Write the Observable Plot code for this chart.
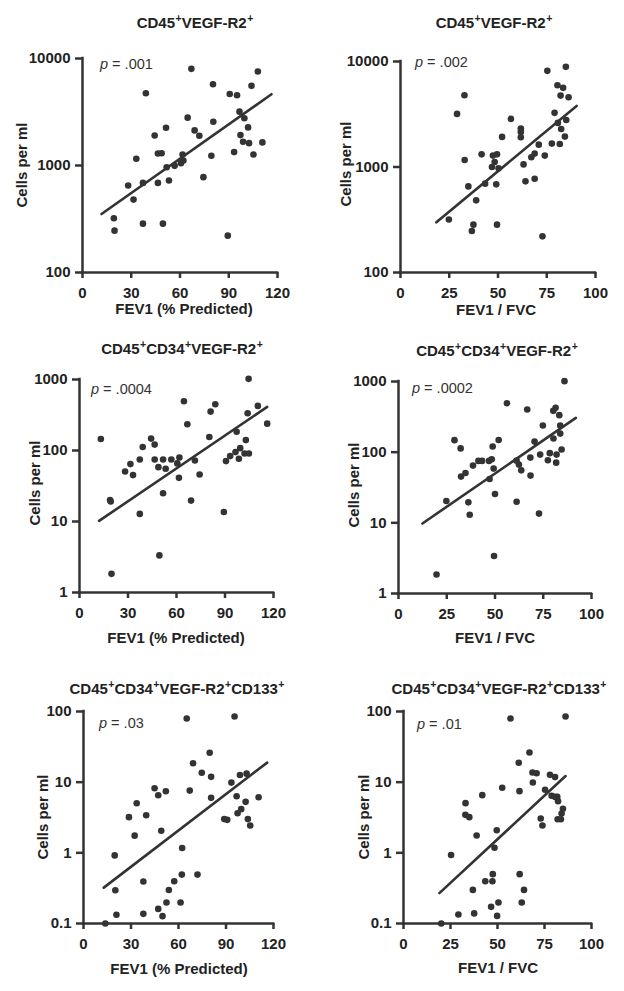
<!DOCTYPE html>
<html><head><meta charset="utf-8">
<script src="https://cdn.jsdelivr.net/npm/d3@7"></script>
<script src="https://cdn.jsdelivr.net/npm/@observablehq/plot@0.6"></script>
<style>
body{margin:0;background:#fff;font-family:"Liberation Sans",Arial,sans-serif;}
#fig{position:relative;width:624px;height:991px;overflow:hidden;background:#fff;}
#fig svg{position:absolute;}
#fig svg text{font-size:15px;font-weight:bold;font-family:"Liberation Sans",Arial,sans-serif;}
.t{position:absolute;white-space:nowrap;color:#222;line-height:15px;}
.title{font-weight:bold;font-size:15px;transform:translateX(-50%);}
.title sup{font-size:10.5px;position:relative;top:-6px;vertical-align:baseline;margin-left:0.5px;}
.xlab{font-weight:bold;font-size:15px;transform:translateX(-50%);}
.ylab{font-weight:bold;font-size:15px;transform:translate(-50%,-50%) rotate(-90deg);}
.pval{font-size:14.5px;color:#333;line-height:14px;}
</style></head>
<body><div id="fig"></div>
<script>
// ---------- data ----------
const titleVegf = ["CD45", "VEGF-R2"];
const titleCd34 = ["CD45", "CD34", "VEGF-R2"];
const titleCd133 = ["CD45", "CD34", "VEGF-R2", "CD133"];
const xLabelPred = "FEV1 (% Predicted)";
const xLabelRatio = "FEV1 / FVC";
const yLabel = "Cells per ml";
const pValues = [".001", ".002", ".0004", ".0002", ".03", ".01"];

const xTicksPred = [0, 30, 60, 90, 120];
const xTicksRatio = [0, 25, 50, 75, 100];
const yTicksVegf = [100, 1000, 10000];
const yTicksCd34 = [1, 10, 100, 1000];
const yTicksCd133 = [0.1, 1, 10, 100];

// Panel 1: CD45+VEGF-R2+ vs FEV1 % predicted
const vegfPredX = [19.3,19.7,28.1,31.4,33.1,37.2,37.2,39.0,44.4,46.4,46.4,48.7,49.5,51.4,51.8,53.2,56.7,60.6,61.6,62.1,64.7,67.0,69.0,71.9,74.4,79.3,80.5,80.3,90.6,89.4,93.3,95.1,96.6,97.2,98.8,99.6,101.9,102.5,104.0,105.2,107.9,110.7];
const vegfPredY = [321,246,650,480,1155,286,688,4730,1910,1296,688,1300,286,2256,964,723,993,1052,1268,1114,2800,8000,2128,1896,778,1233,2566,5740,4660,221,1334,4530,3186,1924,1666,2762,2271,1617,5549,1268,7556,1644];
const vegfPredFit = [11.7, 352, 116.3, 4637];

// Panel 2: CD45+VEGF-R2+ vs FEV1/FVC
const vegfRatioX = [24.8,29.0,32.8,32.9,34.8,36.6,37.4,38.8,41.6,43.4,46.9,47.4,48.3,49.1,49.5,49.5,50.3,52.1,56.6,61.7,61.7,61.7,63.1,64.1,67.1,68.8,68.8,70.9,72.8,74.0,75.3,77.6,79.0,80.5,80.7,81.7,82.1,82.4,83.4,84.3,84.8,85.0,86.2];
const vegfRatioY = [318,3185,4786,1165,655,247,284,483,1318,695,1000,1282,1115,685,1318,284,971,1928,2857,2312,2150,1914,1058,731,1236,1339,775,1629,220,1282,8151,1667,3260,5952,2618,1652,4752,2295,5625,1942,8897,2792,4579];
const vegfRatioFit = [18.4, 299, 90.3, 3794];

// Panel 3: CD45+CD34+VEGF-R2+ vs FEV1 % predicted
const cd34PredX = [13.2,18.9,19.3,19.8,28.2,31.5,33.1,37.3,37.3,39.1,44.3,46.5,46.5,48.8,49.4,51.7,51.7,53.3,56.8,60.5,61.8,61.5,64.6,66.7,69.0,71.4,74.3,80.3,81.1,84.0,89.3,90.6,93.2,96.5,97.2,98.6,99.4,102.1,102.9,104.0,104.8,104.6,110.3,116.1];
const cd34PredY = [145,20.1,19.1,1.83,50.7,64.3,45.0,12.8,74.8,112,147,121,74.8,58.3,3.33,74.8,25.0,55.2,74.8,65.8,79.8,41.2,494,234,19.7,72.4,45.9,155,353,448,13.6,70.9,83.4,95.0,184,76.6,108,90.9,140,334,90.9,1022,425,239];
const cd34PredFit = [12.1, 10.2, 116.1, 411];

// Panel 4: CD45+CD34+VEGF-R2+ vs FEV1/FVC
const cd34RatioX = [19.7,24.8,29.0,32.2,32.4,34.7,36.2,36.9,38.6,41.4,43.3,46.9,47.2,48.3,48.8,49.3,50.0,49.5,51.9,56.2,61.2,61.2,62.4,63.6,66.7,68.3,68.4,70.5,72.8,73.4,74.8,77.4,78.4,80.3,80.2,81.4,81.7,81.9,83.3,83.8,83.8,84.5,86.0];
const cd34RatioY = [1.86,20.4,148,113,45.1,50.8,19.5,13.0,64.6,75.2,75.2,75.2,41.8,79.3,120,58.5,25.6,3.39,149,493,75.8,19.9,66.7,55.3,401,83.8,46.6,141,13.5,92.4,238,76.7,96.9,156,384,424,71.1,92.4,334,238,183,109,1011];
const cd34RatioFit = [12.4, 9.8, 91.9, 305];

// Panel 5: CD45+CD34+VEGF-R2+CD133+ vs FEV1 % predicted
const cd133PredX = [13.8,19.7,20.1,20.8,28.7,32.3,33.6,37.8,37.8,39.6,44.9,47.2,47.2,49.1,49.9,52.0,52.4,53.9,57.3,61.3,62.3,62.1,65.2,67.1,69.2,72.0,74.7,79.7,80.6,80.6,88.9,90.8,93.4,95.4,96.7,97.3,98.8,99.6,102.4,103.0,103.8,105.3,110.6];
const cd133PredY = [0.1,0.92,0.296,0.133,3.20,1.75,5.03,0.392,0.137,3.41,8.21,6.53,0.161,2.05,0.127,7.45,0.198,0.298,0.396,0.198,1.17,0.492,79.6,7.60,18.5,0.492,13.6,26.1,11.9,6.00,3.00,2.93,9.86,85.0,6.32,3.64,12.6,4.15,5.27,13.2,3.00,2.44,6.12];
const cd133PredFit = [12.8, 0.322, 116.0, 18.9];

// Panel 6: CD45+CD34+VEGF-R2+CD133+ vs FEV1/FVC
const cd133RatioX = [20.1,25.3,29.2,33.0,32.9,35.0,36.9,37.6,38.9,41.9,43.5,46.6,47.3,47.5,48.4,49.6,49.8,50.5,52.5,56.9,61.3,61.7,61.8,62.9,64.1,67.0,68.6,68.8,70.8,73.0,73.9,75.3,77.9,78.8,80.6,80.7,81.8,82.2,82.0,83.7,84.1,84.8,86.2];
const cd133RatioY = [0.1,0.93,0.134,5.05,3.45,3.20,0.299,0.139,1.76,6.55,0.397,0.172,0.397,0.499,1.18,2.09,0.128,0.198,8.32,79.6,18.8,7.46,0.499,0.198,0.299,26.3,13.7,9.88,13.4,3.06,2.44,7.80,12.7,6.42,11.8,6.19,6.19,5.38,2.99,2.99,3.60,4.20,85.0];
const cd133RatioFit = [19.1, 0.269, 86.2, 12.2];

// ---------- assembly ----------
const panels = [
  {title: titleVegf, x: vegfPredX, y: vegfPredY, fit: vegfPredFit, xTicks: xTicksPred, yTicks: yTicksVegf, xlab: xLabelPred, p: pValues[0]},
  {title: titleVegf, x: vegfRatioX, y: vegfRatioY, fit: vegfRatioFit, xTicks: xTicksRatio, yTicks: yTicksVegf, xlab: xLabelRatio, p: pValues[1]},
  {title: titleCd34, x: cd34PredX, y: cd34PredY, fit: cd34PredFit, xTicks: xTicksPred, yTicks: yTicksCd34, xlab: xLabelPred, p: pValues[2]},
  {title: titleCd34, x: cd34RatioX, y: cd34RatioY, fit: cd34RatioFit, xTicks: xTicksRatio, yTicks: yTicksCd34, xlab: xLabelRatio, p: pValues[3]},
  {title: titleCd133, x: cd133PredX, y: cd133PredY, fit: cd133PredFit, xTicks: xTicksPred, yTicks: yTicksCd133, xlab: xLabelPred, p: pValues[4]},
  {title: titleCd133, x: cd133RatioX, y: cd133RatioY, fit: cd133RatioFit, xTicks: xTicksRatio, yTicks: yTicksCd133, xlab: xLabelRatio, p: pValues[5]}
];

// layout (page pixels)
const layout = [
  {col: 0,   xr: [82, 277],  yr: [58, 272],  tcx: 195, tcap: 17,  xcx: 184, xcap: 303, ycx: 21,  ycy: 165, pl: 100, pb: 69},
  {col: 312, xr: [400, 595], yr: [61, 272],  tcx: 494, tcap: 17,  xcx: 496, xcap: 304, ycx: 345, ycy: 164, pl: 415, pb: 67},
  {col: 0,   xr: [79, 273],  yr: [379, 592], tcx: 182, tcap: 343, xcx: 176, xcap: 632, ycx: 34,  ycy: 483, pl: 91,  pb: 394},
  {col: 312, xr: [398, 591], yr: [381, 593], tcx: 497, tcap: 345, xcx: 495, xcap: 632, ycx: 353, ycy: 485, pl: 412, pb: 393},
  {col: 0,   xr: [83, 273],  yr: [711, 923], tcx: 177, tcap: 683, xcx: 179, xcap: 963, ycx: 42,  ycy: 817, pl: 99,  pb: 728},
  {col: 312, xr: [403, 591], yr: [711, 923], tcx: 499, tcap: 683, xcx: 498, xcap: 962, ycx: 363, ycy: 817, pl: 417, pb: 729}
];

const AX = "#333", TX = "#222", PT = "#333";
const fig = document.getElementById("fig");
const overlays = [];

panels.forEach((d, i) => {
  const L = layout[i];
  const mt = 10, mb = 30;
  const pts = d.x.map((x, j) => ({x, y: d.y[j]}));
  const fit = [{x: d.fit[0], y: d.fit[1]}, {x: d.fit[2], y: d.fit[3]}];
  const xDom = [d.xTicks[0], d.xTicks[d.xTicks.length - 1]];
  const yDom = [d.yTicks[0], d.yTicks[d.yTicks.length - 1]];
  const txt = {fontSize: 15, fontWeight: "bold", fontFamily: "'Liberation Sans', Arial, sans-serif"};
  const svg = Plot.plot({
    width: 312,
    height: (L.yr[1] - L.yr[0]) + mt + mb,
    marginLeft: L.xr[0] - L.col,
    marginRight: L.col + 312 - L.xr[1],
    marginTop: mt,
    marginBottom: mb,
    style: {background: "transparent", overflow: "visible", fontFamily: "'Liberation Sans', Arial, sans-serif", fontSize: "15px", fontWeight: "bold"},
    x: {domain: xDom},
    y: {type: "log", domain: yDom},
    marks: [
      Plot.axisX({ticks: d.xTicks, tickFormat: v => String(v), tickSize: 6, tickPadding: 9, stroke: AX, strokeWidth: 2.5, fill: TX, label: null, ...txt}),
      Plot.axisY({ticks: d.yTicks, tickFormat: v => String(v), tickSize: 7, tickPadding: 5, stroke: AX, strokeWidth: 2.5, fill: TX, label: null, ...txt}),
      Plot.ruleX([xDom[0]], {stroke: AX, strokeWidth: 2.5, strokeLinecap: "square"}),
      Plot.ruleY([yDom[0]], {stroke: AX, strokeWidth: 2.5, strokeLinecap: "square"}),
      Plot.line(fit, {x: "x", y: "y", stroke: AX, strokeWidth: 2.6}),
      Plot.dot(pts, {x: "x", y: "y", r: 3.3, fill: PT, stroke: "none"})
    ]
  });
  svg.style.left = L.col + "px";
  svg.style.top = (L.yr[0] - mt) + "px";
  fig.appendChild(svg);

  const t = document.createElement("div");
  t.className = "t title";
  t.innerHTML = d.title.map(s => s + "<sup>+</sup>").join("");
  t.style.left = L.tcx + "px";
  t.style.top = (L.tcap - 2) + "px";
  overlays.push(t);

  const xl = document.createElement("div");
  xl.className = "t xlab";
  xl.textContent = d.xlab;
  xl.style.left = L.xcx + "px";
  xl.style.top = (L.xcap - 2) + "px";
  overlays.push(xl);

  const yl = document.createElement("div");
  yl.className = "t ylab";
  yl.textContent = yLabel;
  yl.style.left = L.ycx + "px";
  yl.style.top = L.ycy + "px";
  overlays.push(yl);

  const pv = document.createElement("div");
  pv.className = "t pval";
  pv.innerHTML = "<i>p</i> = " + d.p;
  pv.style.left = L.pl + "px";
  pv.style.top = (L.pb - 12) + "px";
  overlays.push(pv);
});
overlays.forEach(o => fig.appendChild(o));
</script>
</body></html>
